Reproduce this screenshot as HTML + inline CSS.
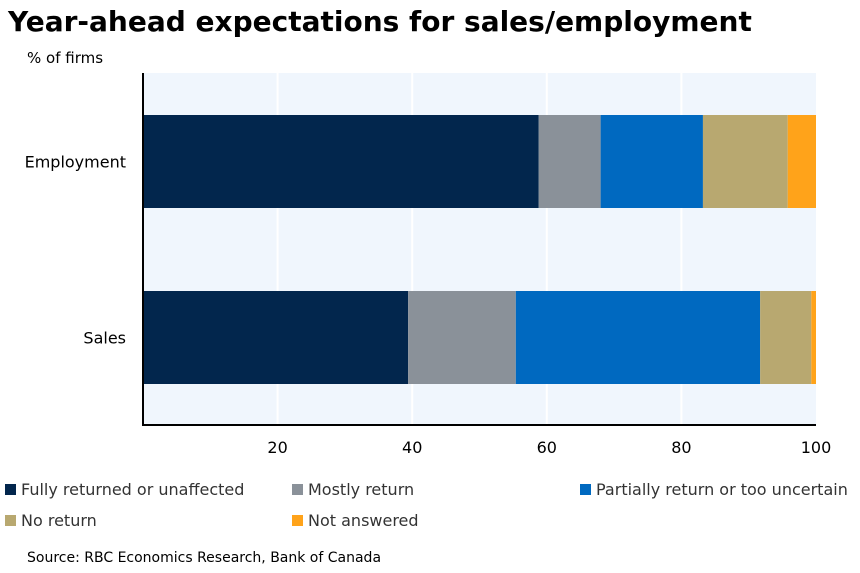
<!DOCTYPE html>
<html><head><meta charset="utf-8"><style>
body{margin:0;background:#fff;width:860px;height:569px;overflow:hidden;font-family:"DejaVu Sans","Liberation Sans",sans-serif;}
</style></head><body>
<svg width="860" height="569" xmlns="http://www.w3.org/2000/svg">
<text x="8" y="31" font-size="28" font-weight="bold" fill="#000">Year-ahead expectations for sales/employment</text>
<text x="27" y="63" font-size="15" fill="#000">% of firms</text>
<rect x="143" y="73" width="673" height="352" fill="#f0f6fd"/>
<g id="grid"></g>
<g id="bars"></g>
<line x1="143" y1="73" x2="143" y2="425" stroke="#000" stroke-width="2"/>
<line x1="142" y1="425" x2="816" y2="425" stroke="#000" stroke-width="2"/>
<g id="ticks" font-size="16" fill="#000"></g>
<g id="legend" font-size="16" fill="#333"></g>
<text x="27" y="562" font-size="14" fill="#000">Source: RBC Economics Research, Bank of Canada</text>
</svg>
<script>
const categories=["Employment","Sales"];
const seriesNames=["Fully returned or unaffected","Mostly return","Partially return or too uncertain","No return","Not answered"];
const fully=[58.8,39.4];
const mostly=[9.2,16.0];
const partially=[15.2,36.3];
const noReturn=[12.6,7.6];
const notAnswered=[4.2,0.7];
const xTicks=[20,40,60,80,100];
const colors=["#02264d","#8a9199","#0069c0","#b8a870","#ffa31a"];
const ns="http://www.w3.org/2000/svg";
const x0=143,x1=816,xs=v=>x0+(x1-x0)*v/100;
const bandTop=[115,291],barH=93;
function mk(tag,attrs,parent){const e=document.createElementNS(ns,tag);for(const k in attrs)e.setAttribute(k,attrs[k]);parent.appendChild(e);return e;}
const grid=document.getElementById('grid'),bars=document.getElementById('bars'),ticks=document.getElementById('ticks'),legend=document.getElementById('legend');
xTicks.forEach(t=>{
  if(t<100){const l=mk('line',{x1:xs(t),x2:xs(t),y1:73,y2:425,stroke:'#fff','stroke-width':2},grid);
  
  }
  const tx=mk('text',{x:xs(t),y:453,'text-anchor':'middle'},ticks);tx.textContent=t;
  
  
});
const series=[fully,mostly,partially,noReturn,notAnswered];
categories.forEach((c,i)=>{
  let acc=0;
  series.forEach((s,j)=>{
    const r=mk('rect',{x:xs(acc),y:bandTop[i],width:xs(acc+s[i])-xs(acc),height:barH,fill:colors[j]},bars);
    
    
    acc+=s[i];
  });
  const lb=mk('text',{x:126,y:bandTop[i]+barH/2+6,'text-anchor':'end'},ticks);lb.textContent=c;
  
  
});
const legPos=[[5,495],[292,495],[580,495],[5,526],[292,526]];
seriesNames.forEach((n,j)=>{
  const g=mk('g',{},legend);
  
  
  mk('rect',{x:legPos[j][0],y:legPos[j][1]-11,width:11,height:11,fill:colors[j]},g);
  const t=mk('text',{x:legPos[j][0]+16,y:legPos[j][1]},g);t.textContent=n;
});
</script>
</body></html>
